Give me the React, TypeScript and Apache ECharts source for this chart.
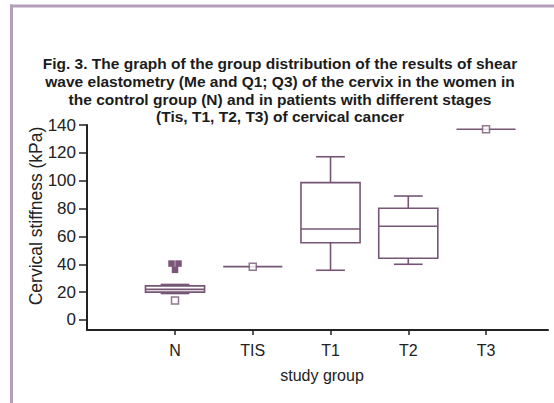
import React, { useEffect, useRef } from "react";
import * as echarts from "echarts";

// ---- data ----
const categories = ["N", "TIS", "T1", "T2", "T3"];
const whiskerMin = [19, 38.3, 35.7, 40, 137];
const quartile1 = [20, 38.3, 55.5, 44.3, 137];
const medians = [22, 38.3, 65.3, 67.3, 137];
const quartile3 = [24.5, 38.3, 98.6, 80.2, 137];
const whiskerMax = [25.5, 38.3, 117.2, 89, 137];

// filled outliers (N group)
const filledOutlierCat = ["N", "N", "N"];
const filledOutlierVal = [40.5, 40.5, 36];
const filledOutlierJitter = [-0.045, 0.045, 0];

// hollow markers
const hollowCat = ["N", "TIS", "T3"];
const hollowVal = [14, 38.3, 137];

const yTicks = [0, 20, 40, 60, 80, 100, 120, 140];

const titleLines = [
  "Fig. 3. The graph of the group distribution of the results of shear",
  "wave elastometry (Me and Q1; Q3) of the cervix in the women in",
  "the control group (N) and in patients with different stages",
  "(Tis, T1, T2, T3) of cervical cancer",
];

const FONT = "'Liberation Sans', Arial, Helvetica, sans-serif";
const BOX_COLOR = "#765674";
const AXIS_COLOR = "#222222";
const FRAME_COLOR = "#b3a0b8";

export default function App() {
  const ref = useRef<HTMLDivElement>(null);

  useEffect(() => {
    if (!ref.current) return;
    const chart = echarts.init(ref.current, undefined, { renderer: "svg" });

    const boxData = categories.map((_, i) => [
      i,
      whiskerMin[i],
      quartile1[i],
      medians[i],
      quartile3[i],
      whiskerMax[i],
    ]);

    const BOX_W = 0.76;
    const CAP_W = 0.37;

    const renderItem = (params: any, api: any) => {
      const x = api.value(0);
      const vMin = api.value(1);
      const vQ1 = api.value(2);
      const vMed = api.value(3);
      const vQ3 = api.value(4);
      const vMax = api.value(5);
      const pMin = api.coord([x, vMin]);
      const pQ1 = api.coord([x, vQ1]);
      const pMed = api.coord([x, vMed]);
      const pQ3 = api.coord([x, vQ3]);
      const pMax = api.coord([x, vMax]);
      const hb = api.size([BOX_W, 0])[0] / 2;
      const hc = api.size([CAP_W, 0])[0] / 2;
      const xp = pMed[0];
      const style = { stroke: BOX_COLOR, lineWidth: 1.6, fill: "none" };
      const children: any[] = [];
      if (vQ3 > vQ1) {
        children.push({
          type: "rect",
          shape: { x: xp - hb, y: pQ3[1], width: hb * 2, height: pQ1[1] - pQ3[1] },
          style: { ...style, fill: "rgba(255,255,255,0)" },
        });
      }
      children.push({
        type: "line",
        shape: { x1: xp - hb, y1: pMed[1], x2: xp + hb, y2: pMed[1] },
        style,
      });
      if (vMax > vQ3) {
        children.push({
          type: "line",
          shape: { x1: xp, y1: pMax[1], x2: xp, y2: pQ3[1] },
          style,
        });
        children.push({
          type: "line",
          shape: { x1: xp - hc, y1: pMax[1], x2: xp + hc, y2: pMax[1] },
          style,
        });
      }
      if (vMin < vQ1) {
        children.push({
          type: "line",
          shape: { x1: xp, y1: pQ1[1], x2: xp, y2: pMin[1] },
          style,
        });
        children.push({
          type: "line",
          shape: { x1: xp - hc, y1: pMin[1], x2: xp + hc, y2: pMin[1] },
          style,
        });
      }
      return { type: "group", children };
    };

    const option: any = {
      animation: false,
      backgroundColor: "#ffffff",
      title: {
        text: titleLines.join("\n"),
        left: 275,
        top: 50,
        textAlign: "center",
        textStyle: {
          fontFamily: FONT,
          fontSize: 15.5,
          fontWeight: "bold",
          color: "#1c1c1c",
          lineHeight: 17.7,
        },
      },
      graphic: [
        {
          type: "rect",
          z: 100,
          shape: { x: 10, y: 4.5, width: 560, height: 3 },
          style: { fill: FRAME_COLOR },
          silent: true,
        },
        {
          type: "rect",
          z: 100,
          shape: { x: 10, y: 4.5, width: 3, height: 410 },
          style: { fill: FRAME_COLOR },
          silent: true,
        },
      ],
      grid: { left: 87, right: 6, top: 125, bottom: 73 },
      xAxis: {
        type: "value",
        min: -1.132,
        max: 4.797,
        name: "study group",
        nameLocation: "middle",
        nameGap: 37,
        nameMoveOverlap: false,
        nameTextStyle: {
          fontFamily: FONT,
          fontSize: 16,
          color: AXIS_COLOR,
          padding: [0, 0, 0, 9],
        },
        splitLine: { show: false },
        axisLine: { show: true, onZero: false, lineStyle: { color: AXIS_COLOR, width: 2 } },
        axisTick: {
          show: true,
          length: 5,
          customValues: categories.map((_, i) => i),
          lineStyle: { color: AXIS_COLOR, width: 1.5 },
        },
        axisLabel: {
          customValues: categories.map((_, i) => i),
          formatter: (v: number) => categories[Math.round(v)] ?? "",
          fontFamily: FONT,
          fontSize: 16,
          color: AXIS_COLOR,
          margin: 12,
        },
      },
      yAxis: {
        type: "value",
        min: -7.2,
        max: 140,
        name: "Cervical stiffness (kPa)",
        nameLocation: "middle",
        nameGap: 42,
        nameMoveOverlap: false,
        nameTextStyle: {
          fontFamily: FONT,
          fontSize: 17.5,
          color: AXIS_COLOR,
          padding: [0, 0, 0, 23],
        },
        splitLine: { show: false },
        axisLine: { show: true, onZero: false, lineStyle: { color: AXIS_COLOR, width: 2 } },
        axisTick: {
          show: true,
          length: 8,
          customValues: yTicks,
          lineStyle: { color: AXIS_COLOR, width: 1.5 },
        },
        axisLabel: {
          customValues: yTicks,
          fontFamily: FONT,
          fontSize: 17,
          color: AXIS_COLOR,
          margin: 11,
        },
      },
      series: [
        {
          type: "custom",
          name: "boxes",
          renderItem,
          encode: { x: 0, y: [1, 2, 3, 4, 5] },
          data: boxData,
          z: 2,
        },
        {
          type: "scatter",
          name: "outliers",
          symbol: "rect",
          symbolSize: 6.5,
          itemStyle: { color: "#5a2a59" },
          data: filledOutlierVal.map((v, i) => [
            categories.indexOf(filledOutlierCat[i]) + filledOutlierJitter[i],
            v,
          ]),
          z: 3,
        },
        {
          type: "scatter",
          name: "markers",
          symbol: "rect",
          symbolSize: 7,
          itemStyle: { color: "#ffffff", borderColor: BOX_COLOR, borderWidth: 1.5 },
          data: hollowVal.map((v, i) => [categories.indexOf(hollowCat[i]), v]),
          z: 4,
        },
      ],
    };

    chart.setOption(option);
    return () => chart.dispose();
  }, []);

  return (
    <div
      ref={ref}
      style={{ position: "absolute", left: 0, top: 0, width: 554, height: 403 }}
    />
  );
}
